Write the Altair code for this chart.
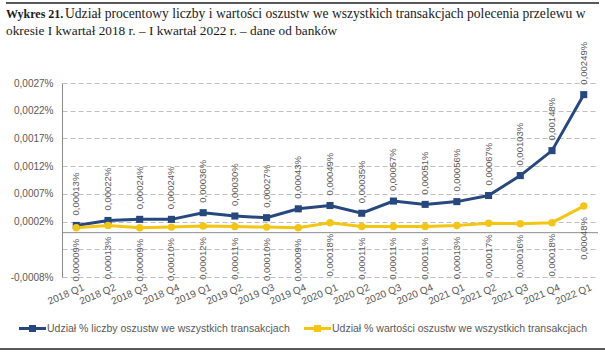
import altair as alt
import pandas as pd

kwartaly = ["2018 Q1", "2018 Q2", "2018 Q3", "2018 Q4", "2019 Q1", "2019 Q2", "2019 Q3", "2019 Q4",
            "2020 Q1", "2020 Q2", "2020 Q3", "2020 Q4", "2021 Q1", "2021 Q2", "2021 Q3", "2021 Q4", "2022 Q1"]
liczba = [0.00013, 0.00022, 0.00024, 0.00024, 0.00036, 0.00030, 0.00027, 0.00043,
          0.00049, 0.00035, 0.00057, 0.00051, 0.00056, 0.00067, 0.00103, 0.00148, 0.00249]
wartosc = [0.00009, 0.00013, 0.00009, 0.00010, 0.00012, 0.00011, 0.00010, 0.00009,
           0.00018, 0.00011, 0.00011, 0.00011, 0.00013, 0.00017, 0.00016, 0.00018, 0.00048]
seria_liczba = "Udział % liczby oszustw we wszystkich transakcjach"
seria_wartosc = "Udział % wartości oszustw we wszystkich transakcjach"
y_ticks = [-0.0008, -0.0003, 0.0002, 0.0007, 0.0012, 0.0017, 0.0022, 0.0027]
title_bold = "Wykres 21."
title_line1 = "Udział procentowy liczby i wartości oszustw we wszystkich transakcjach polecenia przelewu w"
title_line2 = "okresie I kwartał 2018 r. – I kwartał 2022 r. – dane od banków"

BLUE = "#26487F"
YELLOW = "#F3C515"
GREY = "#595959"

rows = []
for k, a, b in zip(kwartaly, liczba, wartosc):
    rows.append({"kw": k, "seria": seria_liczba, "v": a})
    rows.append({"kw": k, "seria": seria_wartosc, "v": b})
df = pd.DataFrame(rows)

W, H = 536, 194
PL, PT = 62, 83

x_enc = alt.X("kw:N", sort=kwartaly, title=None,
              scale=alt.Scale(type="point", padding=0.45),
              axis=alt.Axis(labelAngle=-23, labelAlign="right", labelBaseline="top",
                            labelPadding=5, labelOffset=5, labelFontSize=10, labelColor=GREY,
                            labelFont="Liberation Sans", domain=False, ticks=False, grid=False))
y_enc = alt.Y("v:Q", title=None,
              scale=alt.Scale(domain=[-0.0008, 0.0027], nice=False, zero=False),
              axis=alt.Axis(values=y_ticks, tickCount=20, labelOverlap=False,
                            grid=True, gridDash=[5, 3], gridColor="#BFBFBF",
                            domain=True, domainColor="#8C8C8C", ticks=False,
                            labelFontSize=10, labelColor=GREY, labelFont="Liberation Sans",
                            labelPadding=9,
                            labelExpr="abs(datum.value + 0.0003) < 0.00001 ? '' : "
                                      "replace(replace(format(datum.value, '.4f'), '.', ','), '\u2212', '-') + '%'"))
color_scale = alt.Scale(domain=[seria_liczba, seria_wartosc], range=[BLUE, YELLOW])

legend_path = "M-1,-0.11H1V0.11H-1Z M-0.26,-0.26H0.26V0.26H-0.26Z"
legend = alt.Legend(title=None, orient="none", direction="horizontal",
                    legendX=19 - PL, legendY=315 - PT,
                    symbolType=legend_path, symbolSize=729,
                    symbolStrokeWidth=0, symbolOpacity=1,
                    labelFontSize=10.5, labelColor=GREY, labelFont="Liberation Sans",
                    labelOffset=1, columnPadding=14, labelLimit=400)
color_enc = alt.Color("seria:N", scale=color_scale, legend=legend)

base = alt.Chart(df)

zero_rule = alt.Chart(pd.DataFrame({"v": [0.0]})).mark_rule(color="#8C8C8C", strokeWidth=1).encode(y="v:Q")

lines = base.mark_line(strokeWidth=3).encode(x=x_enc, y=y_enc, color=color_enc)

points_sq = base.transform_filter(alt.datum.seria == seria_liczba).mark_point(
    filled=True, opacity=1, size=50, shape="square").encode(x=x_enc, y=y_enc, color=color_enc)
points_ci = base.transform_filter(alt.datum.seria == seria_wartosc).mark_point(
    filled=True, opacity=1, size=55, shape="circle").encode(x=x_enc, y=y_enc, color=color_enc)

lab_expr = "replace(format(datum.v, '.5f'), '.', ',') + '%'"
labels1 = base.transform_filter(alt.datum.seria == seria_liczba).transform_calculate(
    lab=lab_expr).mark_text(angle=270, align="left", baseline="middle", dx=10,
                            fontSize=9.5, color=GREY, font="Liberation Sans").encode(
    x=x_enc, y=y_enc, text="lab:N")
labels2 = base.transform_filter(alt.datum.seria == seria_wartosc).transform_calculate(
    lab=lab_expr).mark_text(angle=270, align="right", baseline="middle", dx=-11,
                            fontSize=9.5, color=GREY, font="Liberation Sans").encode(
    x=x_enc, y=y_enc, text="lab:N")

tdf = pd.DataFrame({"b": [title_bold], "l1": [title_line1], "l2": [title_line2]})
t_bold = alt.Chart(tdf).mark_text(align="left", baseline="alphabetic", font="Liberation Serif",
                                  fontSize=12, fontWeight="bold", color="#1a1a1a").encode(
    x=alt.value(6 - PL), y=alt.value(18 - PT), text="b:N")
t_l1 = alt.Chart(tdf).mark_text(align="left", baseline="alphabetic", font="Liberation Serif",
                                fontSize=13.6, color="#1a1a1a").encode(
    x=alt.value(65 - PL), y=alt.value(18 - PT), text="l1:N")
t_l2 = alt.Chart(tdf).mark_text(align="left", baseline="alphabetic", font="Liberation Serif",
                                fontSize=13.3, color="#1a1a1a").encode(
    x=alt.value(6 - PL), y=alt.value(35 - PT), text="l2:N")
top_line = alt.Chart(tdf).mark_rule(color="#222222", strokeWidth=1.5).encode(
    x=alt.value(6 - PL), x2=alt.value(599 - PL), y=alt.value(3 - PT))
bottom_line = alt.Chart(tdf).mark_rule(color="#222222", strokeWidth=1.5).encode(
    x=alt.value(0 - PL), x2=alt.value(605 - PL), y=alt.value(349 - PT))

chart = alt.layer(zero_rule, lines, points_sq, points_ci, labels1, labels2,
                  t_bold, t_l1, t_l2, top_line, bottom_line).properties(
    width=W, height=H,
    autosize=alt.AutoSizeParams(type="none"),
    padding={"left": PL, "top": PT, "right": 605 - PL - W, "bottom": 353 - PT - H},
    background="white",
).configure_view(stroke=None)

chart.save("out.html", embed_options={"renderer": "svg", "actions": False})
